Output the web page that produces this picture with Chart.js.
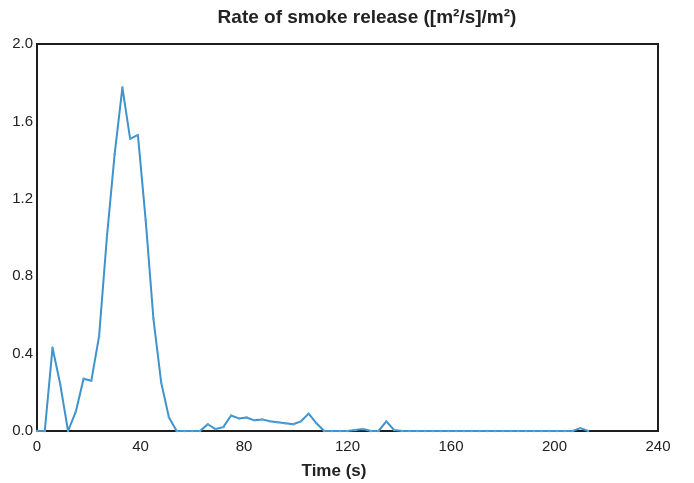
<!DOCTYPE html>
<html>
<head>
<meta charset="utf-8">
<script src="https://cdn.jsdelivr.net/npm/chart.js@4"></script>
<style>
  html, body { margin: 0; padding: 0; background: #fff; }
  #wrap { width: 694px; height: 483px; }
</style>
</head>
<body>
<div id="wrap"><canvas id="smoke" width="694" height="483"></canvas></div>
<script>
const titleText = 'Rate of smoke release ([m²/s]/m²)';
const xTitle = 'Time (s)';

const times = [0, 3, 6, 9, 12, 15, 18, 21, 24, 27, 30, 33, 36, 39, 42, 45, 48, 51, 54, 57,
  60, 63, 66, 69, 72, 75, 78, 81, 84, 87, 90, 93, 96, 99, 102, 105, 108, 111, 114, 117,
  120, 123, 126, 129, 132, 135, 138, 141, 144, 147, 150, 153, 156, 159, 162, 165, 168, 171,
  174, 177, 180, 183, 186, 189, 192, 195, 198, 201, 204, 207, 210, 213];

const rsr = [0, 0, 0.43, 0.24, 0.00, 0.10, 0.27, 0.26, 0.49, 1.00, 1.43, 1.775, 1.51, 1.53, 1.09, 0.58, 0.25, 0.07, 0, 0,
  0, 0, 0.035, 0.01, 0.02, 0.08, 0.065, 0.07, 0.055, 0.06, 0.05, 0.045, 0.04, 0.035, 0.05, 0.09, 0.04, 0, 0, 0,
  0, 0.005, 0.01, 0, 0, 0.05, 0.005, 0, 0, 0, 0, 0, 0, 0, 0, 0, 0, 0,
  0, 0, 0, 0, 0, 0, 0, 0, 0, 0, 0, 0, 0.015, 0];

const xTicks = [0, 40, 80, 120, 160, 200, 240];
const yTicks = [0, 0.4, 0.8, 1.2, 1.6, 2.0];

const points = times.map((t, i) => ({ x: t, y: rsr[i] }));
const font = '"Liberation Sans", Arial, sans-serif';

// frame round the plot and the two bold titles
const decor = {
  id: 'decor',
  beforeDatasetsDraw(chart) {
    const { ctx, chartArea: a } = chart;
    ctx.save();
    ctx.strokeStyle = '#1e1e1e';
    ctx.lineWidth = 2;
    ctx.strokeRect(a.left, a.top, a.right - a.left, a.bottom - a.top);
    ctx.restore();
  },
  afterDraw(chart) {
    const ctx = chart.ctx;
    ctx.save();
    ctx.fillStyle = '#222';
    ctx.textAlign = 'center';
    ctx.textBaseline = 'middle';
    ctx.font = 'bold 19px ' + font;
    ctx.fillText(titleText, 367, 18);
    ctx.font = 'bold 17px ' + font;
    ctx.fillText(xTitle, 334, 471);
    ctx.restore();
  }
};

new Chart(document.getElementById('smoke'), {
  type: 'line',
  data: {
    datasets: [{
      data: points,
      borderColor: '#3f93cb',
      backgroundColor: '#3f93cb',
      borderWidth: 2,
      borderJoinStyle: 'round',
      pointRadius: 1.2,
      pointBorderWidth: 0,
      pointBackgroundColor: '#5aa4d6',
      tension: 0,
      clip: false
    }]
  },
  options: {
    responsive: false,
    animation: false,
    layout: { padding: { left: 0, right: 36, top: 44, bottom: 0 } },
    plugins: { legend: { display: false }, title: { display: false }, tooltip: { enabled: false } },
    scales: {
      x: {
        type: 'linear', min: 0, max: 240,
        afterFit: s => { s.height = 52; },
        afterBuildTicks: s => { s.ticks = xTicks.map(v => ({ value: v })); },
        grid: { display: false, drawTicks: false },
        border: { display: false },
        ticks: { color: '#222', padding: 7, maxRotation: 0, font: { size: 15, family: font } }
      },
      y: {
        min: 0, max: 2,
        afterFit: s => { s.width = 37; },
        afterBuildTicks: s => { s.ticks = yTicks.map(v => ({ value: v })); },
        grid: { display: false, drawTicks: false },
        border: { display: false },
        ticks: { color: '#222', padding: 4, callback: v => v.toFixed(1), font: { size: 15, family: font } }
      }
    }
  },
  plugins: [decor]
});
</script>
</body>
</html>
